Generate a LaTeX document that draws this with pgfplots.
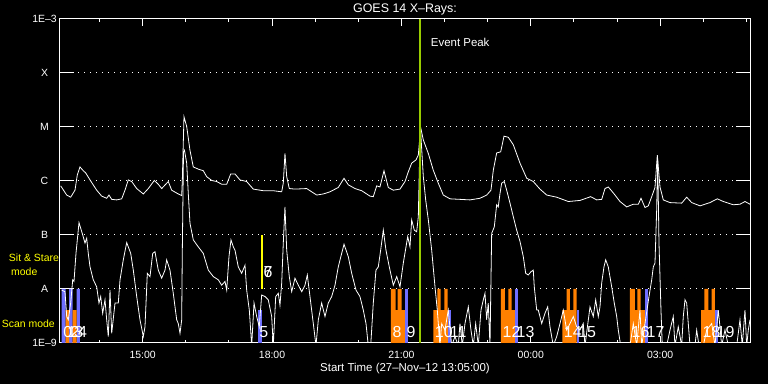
\documentclass[border=0pt]{standalone}
\usepackage{fontspec}
\setmainfont{Liberation Sans}
\usepackage{pgfplots}
\pgfplotsset{compat=1.18}
\definecolor{obsorange}{RGB}{255,128,0}
\definecolor{obsblue}{RGB}{110,110,255}
\definecolor{peakgreen}{RGB}{153,204,0}
\definecolor{sityellow}{RGB}{255,255,0}
\newcommand{\lab}[3]{\node[white, font=\fontsize{16}{16}\selectfont, anchor=west, inner sep=0pt] at (axis cs:#1,#2) {#3};}
\begin{document}
\begin{tikzpicture}
\path[use as bounding box, fill=black] (0,0) rectangle (768bp,384bp);
\begin{axis}[
  at={(60bp,41bp)}, anchor=south west,
  width=690bp, height=324bp, scale only axis,
  xmin=13.0833, xmax=29.0833, ymin=-9, ymax=-3,
  clip mode=individual,
  axis line style={white, line width=1bp},
  xtick={15,18,21,24,27},
  xticklabels={15:00,18:00,21:00,00:00,03:00},
  minor xtick={14,16,17,19,20,22,23,25,26,28,29},
  ytick={-9,-8,-7,-6,-5,-4,-3},
  yticklabels={1E–9,A,B,C,M,X,1E–3},
  major tick length=6.7bp, minor tick length=3.3bp,
  ytick style={/pgfplots/major tick length=14bp},
  tick style={white, line width=1bp},
  ymajorgrids,
  major grid style={white, line width=1bp, dash pattern=on 1bp off 5bp},
  ticklabel style={white, font=\fontsize{10.5}{12}\selectfont},
  yticklabel style={anchor=center, xshift=-15.5bp},
  xticklabel style={anchor=center, yshift=-12bp},
  every axis title shift=0pt,
  title={GOES 14 X–Rays:},
  title style={white, font=\fontsize{12.5}{14}\selectfont, at={(axis description cs:0.5,1)}, anchor=center, yshift=9.5bp},
  xlabel={Start Time (27–Nov–12 13:05:00)},
  xlabel style={white, font=\fontsize{11.5}{13}\selectfont, at={(axis description cs:0.5,0)}, anchor=center, yshift=-25.3bp},
]
% observation bars
\addplot[fill=obsblue, draw=none] coordinates {(13.123,-9) (13.123,-8) (13.215,-8) (13.215,-9) (13.292,-9) (13.292,-8) (13.378,-8) (13.378,-9) (13.466,-9) (13.466,-8) (13.547,-8) (13.547,-9)} --cycle;
\addplot[fill=obsorange, draw=none] coordinates {(13.215,-9) (13.215,-8.39) (13.292,-8.39) (13.292,-9) (13.378,-9) (13.378,-8.39) (13.466,-8.39) (13.466,-9)} --cycle;
\addplot[fill=obsblue, draw=none] coordinates {(17.667,-9) (17.667,-8.39) (17.760,-8.39) (17.760,-9)} --cycle;
\addplot[fill=obsorange, draw=none] coordinates {(20.758,-9) (20.758,-8) (20.868,-8) (20.868,-8.39) (20.914,-8.39) (20.914,-8) (21.007,-8) (21.007,-8.39) (21.083,-8.39) (21.083,-9)} --cycle;
\addplot[fill=obsblue, draw=none] coordinates {(21.083,-9) (21.083,-8) (21.153,-8) (21.153,-9)} --cycle;
\addplot[fill=obsorange, draw=none] coordinates {(21.739,-9) (21.739,-8.39) (21.832,-8.39) (21.832,-8) (21.911,-8) (21.911,-8.39) (21.994,-8.39) (21.994,-8) (22.073,-8) (22.073,-8.39) (22.087,-8.39) (22.087,-9)} --cycle;
\addplot[fill=obsblue, draw=none] coordinates {(22.087,-9) (22.087,-8.39) (22.150,-8.39) (22.150,-9)} --cycle;
\addplot[fill=obsorange, draw=none] coordinates {(23.309,-9) (23.309,-8) (23.402,-8) (23.402,-8.39) (23.478,-8.39) (23.478,-8) (23.557,-8) (23.557,-8.39) (23.634,-8.39) (23.634,-9)} --cycle;
\addplot[fill=obsblue, draw=none] coordinates {(23.634,-9) (23.634,-8) (23.696,-8) (23.696,-9)} --cycle;
\addplot[fill=obsorange, draw=none] coordinates {(24.730,-9) (24.730,-8.39) (24.832,-8.39) (24.832,-8) (24.909,-8) (24.909,-8.39) (24.986,-8.39) (24.986,-8) (25.064,-8) (25.064,-9)} --cycle;
\addplot[fill=obsblue, draw=none] coordinates {(25.064,-9) (25.064,-8.39) (25.118,-8.39) (25.118,-9)} --cycle;
\addplot[fill=obsorange, draw=none] coordinates {(26.300,-9) (26.300,-8) (26.416,-8) (26.416,-8.39) (26.470,-8.39) (26.470,-8) (26.548,-8) (26.548,-8.39) (26.648,-8.39) (26.648,-9)} --cycle;
\addplot[fill=obsblue, draw=none] coordinates {(26.648,-9) (26.648,-8) (26.711,-8) (26.711,-9)} --cycle;
\addplot[fill=obsorange, draw=none] coordinates {(27.947,-9) (27.947,-8.39) (28.023,-8.39) (28.023,-8) (28.116,-8) (28.116,-8.39) (28.195,-8.39) (28.195,-8) (28.271,-8) (28.271,-9)} --cycle;
\addplot[fill=obsblue, draw=none] coordinates {(28.271,-9) (28.271,-8.39) (28.334,-8.39) (28.334,-9)} --cycle;
% sit & stare marker
\addplot[sityellow, line width=2bp] coordinates {(17.767,-8) (17.767,-7)};
% long channel (1-8 A)
\addplot[white, line width=0.8bp, mark=none] table {
13.099 -6.09
13.238 -6.26
13.331 -6.30
13.431 -6.17
13.484 -5.89
13.547 -5.74
13.623 -5.81
13.679 -5.85
13.779 -5.98
13.934 -6.17
14.050 -6.28
14.166 -6.32
14.219 -6.26
14.282 -6.34
14.398 -6.35
14.514 -6.33
14.590 -6.17
14.667 -5.98
14.746 -6.01
14.862 -6.14
15.015 -6.24
15.131 -6.14
15.270 -5.99
15.362 -6.06
15.441 -6.14
15.594 -6.01
15.673 -6.17
15.826 -6.24
15.905 -6.27
15.919 -6.01
15.958 -4.81
16.021 -4.99
16.097 -5.43
16.174 -5.74
16.290 -5.78
16.406 -5.81
16.485 -5.92
16.601 -5.99
16.717 -6.01
16.833 -6.06
16.949 -6.06
17.041 -5.87
17.141 -5.87
17.257 -5.98
17.412 -6.01
17.565 -6.15
17.797 -6.18
18.029 -6.18
18.224 -6.20
18.261 -6.04
18.300 -5.49
18.340 -5.92
18.400 -6.14
18.532 -6.15
18.804 -6.14
18.880 -6.18
19.036 -6.26
19.189 -6.24
19.344 -6.20
19.536 -6.12
19.669 -5.95
19.768 -6.07
19.924 -6.14
20.079 -6.18
20.271 -6.28
20.348 -6.29
20.427 -6.09
20.503 -6.11
20.596 -5.81
20.696 -6.12
20.812 -6.17
20.967 -6.15
21.083 -6.01
21.160 -5.83
21.238 -5.67
21.338 -5.61
21.392 -5.52
21.447 -5.01
21.508 -5.24
21.624 -5.49
21.739 -5.80
21.855 -6.04
21.971 -6.26
22.126 -6.33
22.358 -6.34
22.590 -6.35
22.822 -6.32
22.978 -6.26
23.077 -6.17
23.131 -5.80
23.209 -5.48
23.302 -5.46
23.379 -5.17
23.479 -5.19
23.595 -5.33
23.750 -5.67
23.906 -5.95
24.058 -6.01
24.213 -6.15
24.369 -6.26
24.601 -6.30
24.870 -6.38
25.141 -6.36
25.389 -6.29
25.528 -6.35
25.644 -6.34
25.721 -6.14
25.797 -6.11
25.913 -6.22
26.069 -6.38
26.224 -6.48
26.377 -6.43
26.493 -6.43
26.556 -6.32
26.648 -6.49
26.725 -6.46
26.804 -6.29
26.880 -6.12
26.934 -5.52
26.996 -6.11
27.073 -6.35
27.228 -6.40
27.499 -6.41
27.615 -6.30
27.731 -6.40
27.924 -6.46
28.155 -6.40
28.325 -6.33
28.464 -6.38
28.696 -6.44
28.851 -6.43
28.967 -6.38
29.083 -6.43
};
% short channel (0.5-4 A)
\addplot[white, line width=0.8bp, mark=none] table {
13.123 -8.02
13.199 -8.05
13.239 -8.51
13.276 -8.57
13.331 -8.26
13.378 -7.83
13.408 -7.86
13.454 -7.34
13.524 -6.77
13.610 -7.00
13.663 -7.15
13.702 -7.06
13.739 -7.34
13.779 -7.59
13.855 -7.83
13.934 -7.96
13.987 -8.26
14.027 -8.14
14.073 -8.45
14.127 -8.20
14.166 -8.57
14.203 -8.88
14.243 -8.02
14.282 -8.82
14.359 -8.26
14.435 -8.26
14.475 -7.83
14.551 -7.46
14.630 -7.14
14.723 -7.34
14.783 -7.65
14.862 -8.14
14.938 -8.57
15.015 -8.88
15.054 -8.70
15.108 -7.71
15.170 -7.77
15.233 -7.34
15.286 -7.31
15.362 -7.65
15.441 -7.80
15.518 -7.65
15.557 -7.46
15.634 -7.65
15.710 -8.08
15.789 -8.57
15.826 -8.64
15.866 -8.82
15.905 -8.57
15.919 -7.33
15.947 -5.46
15.970 -5.43
16.021 -5.67
16.058 -6.23
16.097 -6.78
16.174 -7.09
16.290 -7.22
16.406 -7.34
16.522 -7.65
16.638 -7.77
16.754 -7.83
16.833 -7.93
16.909 -7.86
16.949 -8.02
17.002 -7.40
17.048 -7.09
17.102 -7.22
17.141 -7.28
17.217 -7.59
17.296 -7.71
17.373 -7.56
17.412 -8.02
17.473 -8.39
17.528 -9.05
17.582 -8.26
17.644 -8.51
17.704 -8.70
17.760 -8.11
17.837 -8.14
17.913 -8.20
17.992 -8.51
18.029 -9.05
18.085 -8.14
18.145 -8.08
18.184 -8.30
18.224 -7.89
18.261 -7.15
18.300 -6.48
18.340 -7.28
18.400 -7.77
18.456 -8.05
18.532 -7.80
18.609 -7.93
18.688 -8.05
18.764 -7.93
18.818 -7.74
18.880 -8.14
18.957 -8.64
19.019 -9.05
19.073 -8.57
19.151 -8.26
19.228 -8.51
19.304 -8.26
19.383 -8.14
19.460 -7.93
19.536 -7.59
19.669 -7.17
19.768 -7.40
19.847 -7.71
19.947 -8.02
20.039 -8.14
20.116 -8.39
20.179 -8.64
20.232 -9.05
20.288 -9.05
20.348 -8.26
20.410 -7.65
20.464 -7.59
20.519 -7.28
20.580 -6.91
20.642 -7.28
20.719 -7.59
20.812 -7.93
20.891 -7.77
20.967 -7.96
21.044 -7.52
21.146 -7.03
21.199 -7.22
21.238 -6.72
21.299 -6.91
21.354 -6.94
21.392 -6.66
21.431 -5.24
21.447 -5.09
21.508 -5.92
21.563 -6.35
21.624 -6.72
21.702 -7.28
21.779 -7.96
21.832 -8.39
21.894 -9.05
21.934 -8.64
22.010 -8.76
22.087 -8.39
22.166 -9.05
22.242 -8.88
22.319 -9.05
22.358 -8.64
22.412 -9.05
22.474 -8.64
22.551 -8.33
22.613 -8.76
22.667 -9.05
22.722 -8.64
22.783 -9.05
22.845 -8.39
22.899 -8.20
22.938 -8.08
22.977 -8.57
23.014 -8.26
23.054 -9.05
23.093 -6.97
23.154 -6.85
23.209 -6.44
23.246 -6.48
23.286 -6.23
23.325 -6.04
23.385 -6.01
23.441 -6.17
23.518 -6.41
23.594 -6.66
23.673 -6.91
23.750 -7.12
23.826 -7.40
23.882 -7.71
23.942 -7.74
24.005 -7.68
24.058 -7.65
24.081 -7.96
24.137 -8.39
24.174 -8.39
24.253 -8.64
24.329 -8.45
24.392 -8.33
24.445 -8.70
24.522 -9.05
24.601 -8.88
24.677 -8.64
24.754 -8.39
24.832 -8.76
24.909 -8.64
24.986 -8.51
25.064 -8.70
25.141 -8.76
25.217 -8.64
25.257 -9.05
25.373 -8.33
25.449 -8.51
25.505 -8.20
25.565 -8.51
25.605 -8.33
25.644 -7.89
25.697 -7.59
25.737 -7.46
25.797 -7.59
25.876 -7.96
25.936 -8.26
25.992 -8.51
26.029 -8.76
26.085 -9.05
26.300 -9.05
26.377 -8.64
26.456 -9.05
26.532 -8.39
26.572 -9.05
26.648 -8.64
26.741 -8.14
26.804 -7.83
26.841 -7.59
26.880 -7.52
26.919 -6.54
26.943 -5.61
26.973 -7.15
27.019 -8.39
27.049 -9.05
27.151 -9.05
27.228 -8.76
27.304 -8.51
27.343 -9.05
27.420 -8.70
27.499 -9.05
27.536 -8.51
27.576 -8.20
27.615 -8.26
27.652 -8.64
27.692 -9.05
27.807 -9.05
27.847 -8.76
27.900 -9.05
28.000 -9.05
28.079 -8.76
28.195 -8.64
28.271 -9.05
28.348 -8.39
28.387 -8.70
28.426 -9.05
28.503 -8.76
28.580 -9.05
28.775 -9.05
28.851 -8.57
28.904 -9.05
28.967 -8.39
29.006 -9.05
29.044 -8.76
29.083 -8.57
};
% event peak
\addplot[peakgreen, line width=2bp] coordinates {(21.424,-9) (21.424,-3)};
\node[white, font=\fontsize{11.5}{13}\selectfont, anchor=west, inner sep=0pt] at (axis cs:21.679,-3.44) {Event Peak};
% observation numbers
\lab{13.157}{-8.80}{0}
\lab{13.250}{-8.80}{1}
\lab{13.327}{-8.80}{2}
\lab{13.412}{-8.80}{3}
\lab{13.501}{-8.80}{4}
\lab{17.702}{-8.80}{5}
\lab{17.802}{-7.69}{6}
\lab{17.802}{-7.69}{7}
\lab{20.793}{-8.80}{8}
\lab{21.118}{-8.80}{9}
\lab{21.774}{-8.80}{10}
\lab{22.122}{-8.80}{11}
\lab{23.344}{-8.80}{12}
\lab{23.669}{-8.80}{13}
\lab{24.765}{-8.80}{14}
\lab{25.099}{-8.80}{15}
\lab{26.335}{-8.80}{16}
\lab{26.683}{-8.80}{17}
\lab{27.982}{-8.80}{18}
\lab{28.306}{-8.80}{19}
% mode labels
\node[sityellow, font=\fontsize{10.5}{12}\selectfont, anchor=center, inner sep=0pt] at (axis cs:12.480,-7.43) {Sit \& Stare};
\node[sityellow, font=\fontsize{10.5}{12}\selectfont, anchor=center, inner sep=0pt] at (axis cs:12.255,-7.68) {mode};
\node[sityellow, font=\fontsize{10.5}{12}\selectfont, anchor=center, inner sep=0pt] at (axis cs:12.348,-8.65) {Scan mode};
\end{axis}
\end{tikzpicture}
\end{document}
